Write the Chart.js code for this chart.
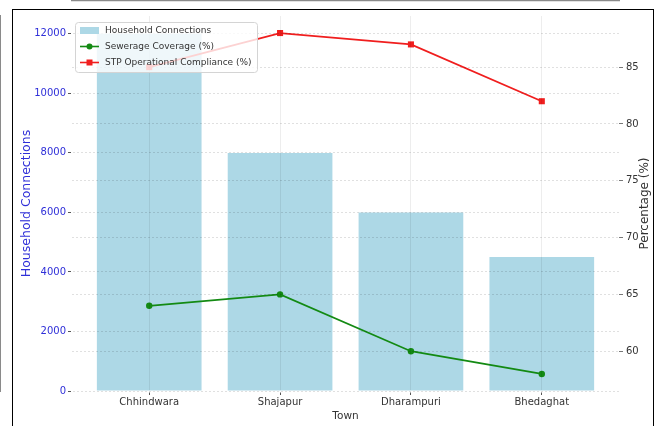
<!DOCTYPE html>
<html>
<head>
<meta charset="utf-8">
<script src="https://cdn.jsdelivr.net/npm/chart.js@4.4.1/dist/chart.umd.min.js"></script>
<style>
  html, body { margin: 0; padding: 0; background: #fff; overflow: hidden; }
  #wrap { position: relative; width: 662px; height: 426px; }
  #frame {
    position: absolute; left: 12px; top: 9px; width: 642px; height: 430px;
    border: 1.5px solid #000; box-sizing: border-box; pointer-events: none;
  }
  canvas { display: block; }
</style>
</head>
<body>
<div id="wrap">
  <canvas id="chart" width="662" height="426"></canvas>
  <div id="frame"></div>
</div>
<script>
// Town-level sewerage figures
const towns = ["Chhindwara", "Shajapur", "Dharampuri", "Bhedaghat"];
const householdConnections = [12000, 8000, 6000, 4500];
const sewerageCoverage = [64, 65, 60, 58];
const stpCompliance = [85, 88, 87, 82];
const connectionTicks = [0, 2000, 4000, 6000, 8000, 10000, 12000];
const percentTicks = [60, 65, 70, 75, 80, 85];

const FONT = "'DejaVu Sans', sans-serif";
const LABEL_BLUE = "#2f2fd8";

const points = (arr) => arr.map((v, i) => ({ x: i, y: v }));

// right-hand axis title reads bottom-to-top, like the left one
const rightTitlePlugin = {
  id: "rightTitle",
  afterDraw(chart) {
    const ctx = chart.ctx;
    const area = chart.chartArea;
    ctx.save();
    ctx.translate(645, (area.top + area.bottom) / 2);
    ctx.rotate(-Math.PI / 2);
    ctx.font = "12px " + FONT;
    ctx.fillStyle = "#333";
    ctx.textAlign = "center";
    ctx.textBaseline = "middle";
    ctx.fillText("Percentage (%)", 0, 0);
    ctx.restore();
  }
};

// legend box sitting inside the plot, top-left
const innerLegendPlugin = {
  id: "innerLegend",
  afterDraw(chart) {
    const ctx = chart.ctx;
    const ds = chart.data.datasets;
    const x0 = 75, y0 = 22, w = 182, h = 50;
    ctx.save();
    ctx.fillStyle = "rgba(255,255,255,0.8)";
    ctx.strokeStyle = "#d4d4d4";
    ctx.lineWidth = 1;
    ctx.beginPath();
    ctx.roundRect(x0 + 0.5, y0 + 0.5, w, h, 3);
    ctx.fill();
    ctx.stroke();

    ctx.font = "9px " + FONT;
    ctx.textBaseline = "middle";
    ds.forEach((d, i) => {
      const cy = y0 + 8.5 + i * 16;
      if (d.type === "bar") {
        ctx.fillStyle = d.backgroundColor;
        ctx.fillRect(80, cy - 3.5, 19, 7);
      } else {
        ctx.strokeStyle = d.borderColor;
        ctx.lineWidth = 1.6;
        ctx.beginPath();
        ctx.moveTo(80, cy);
        ctx.lineTo(99, cy);
        ctx.stroke();
        ctx.fillStyle = d.borderColor;
        ctx.beginPath();
        if (d.pointStyle === "rect") {
          ctx.rect(86.5, cy - 3, 6, 6);
        } else {
          ctx.arc(89.5, cy, 3, 0, Math.PI * 2);
        }
        ctx.fill();
      }
      ctx.fillStyle = "#333";
      ctx.fillText(d.label, 105, cy + 0.5);
    });
    ctx.restore();
  }
};

new Chart(document.getElementById("chart"), {
  data: {
    datasets: [
      {
        type: "bar",
        label: "Household Connections",
        data: points(householdConnections),
        backgroundColor: "#add8e6",
        borderWidth: 0,
        barPercentage: 0.8,
        categoryPercentage: 1.0,
        xAxisID: "x",
        yAxisID: "y",
        order: 3
      },
      {
        type: "line",
        label: "Sewerage Coverage (%)",
        data: points(sewerageCoverage),
        borderColor: "#138a13",
        backgroundColor: "#138a13",
        borderWidth: 1.8,
        pointStyle: "circle",
        pointRadius: 3.2,
        pointBorderWidth: 0,
        tension: 0,
        xAxisID: "x",
        yAxisID: "y1",
        order: 2
      },
      {
        type: "line",
        label: "STP Operational Compliance (%)",
        data: points(stpCompliance),
        borderColor: "#f01e1e",
        backgroundColor: "#f01e1e",
        borderWidth: 1.8,
        pointStyle: "rect",
        pointRadius: 4.3,
        pointBorderWidth: 0,
        tension: 0,
        xAxisID: "x",
        yAxisID: "y1",
        order: 1
      }
    ]
  },
  options: {
    responsive: false,
    animation: false,
    devicePixelRatio: 1,
    layout: { padding: { top: 16, left: 0, right: 0, bottom: 0 } },
    plugins: {
      legend: { display: false },
      tooltip: { enabled: false }
    },
    scales: {
      x: {
        type: "linear",
        min: -0.59,
        max: 3.59,
        offset: false,
        afterBuildTicks(scale) {
          scale.ticks = towns.map((_, i) => ({ value: i }));
        },
        afterFit(scale) { scale.height = 35; },
        ticks: {
          callback: (v) => towns[v],
          autoSkip: false,
          maxRotation: 0,
          padding: 1,
          color: "#333",
          font: { family: FONT, size: 10 }
        },
        grid: {
          offset: false,
          color: "rgba(0,0,0,0.07)",
          lineWidth: 1,
          tickLength: 4,
          tickColor: "#555",
          z: 1
        },
        border: { display: true, color: "#8a8a8a", width: 2.5 },
        title: {
          display: true,
          text: "Town",
          color: "#333",
          font: { family: FONT, size: 10.5 },
          padding: { top: 0, bottom: 3 }
        }
      },
      y: {
        type: "linear",
        position: "left",
        min: 0,
        max: 12600,
        afterBuildTicks(scale) {
          scale.ticks = connectionTicks.map((v) => ({ value: v }));
        },
        afterFit(scale) { scale.width = 72; },
        ticks: {
          callback: (v) => String(v),
          color: LABEL_BLUE,
          padding: 2,
          font: { family: FONT, size: 10 }
        },
        grid: {
          color: "rgba(0,0,0,0.12)",
          lineWidth: 1,
          tickLength: 4,
          tickColor: "#555",
          z: 1
        },
        border: { display: true, color: "#8a8a8a", width: 2, dash: [2, 2] },
        title: {
          display: true,
          text: "Household Connections",
          color: LABEL_BLUE,
          font: { family: FONT, size: 12.5 },
          padding: { top: 19, bottom: 0 }
        }
      },
      y1: {
        type: "linear",
        position: "right",
        min: 56.5,
        max: 89.5,
        afterBuildTicks(scale) {
          scale.ticks = percentTicks.map((v) => ({ value: v }));
        },
        afterFit(scale) { scale.width = 43; },
        ticks: {
          callback: (v) => String(v),
          color: "#333",
          padding: 3,
          font: { family: FONT, size: 10 }
        },
        grid: {
          color: "rgba(0,0,0,0.12)",
          lineWidth: 1,
          tickLength: 4,
          tickColor: "#777",
          z: 1
        },
        border: { display: false, dash: [2, 2] }
      }
    }
  },
  plugins: [rightTitlePlugin, innerLegendPlugin]
});
</script>
</body>
</html>
